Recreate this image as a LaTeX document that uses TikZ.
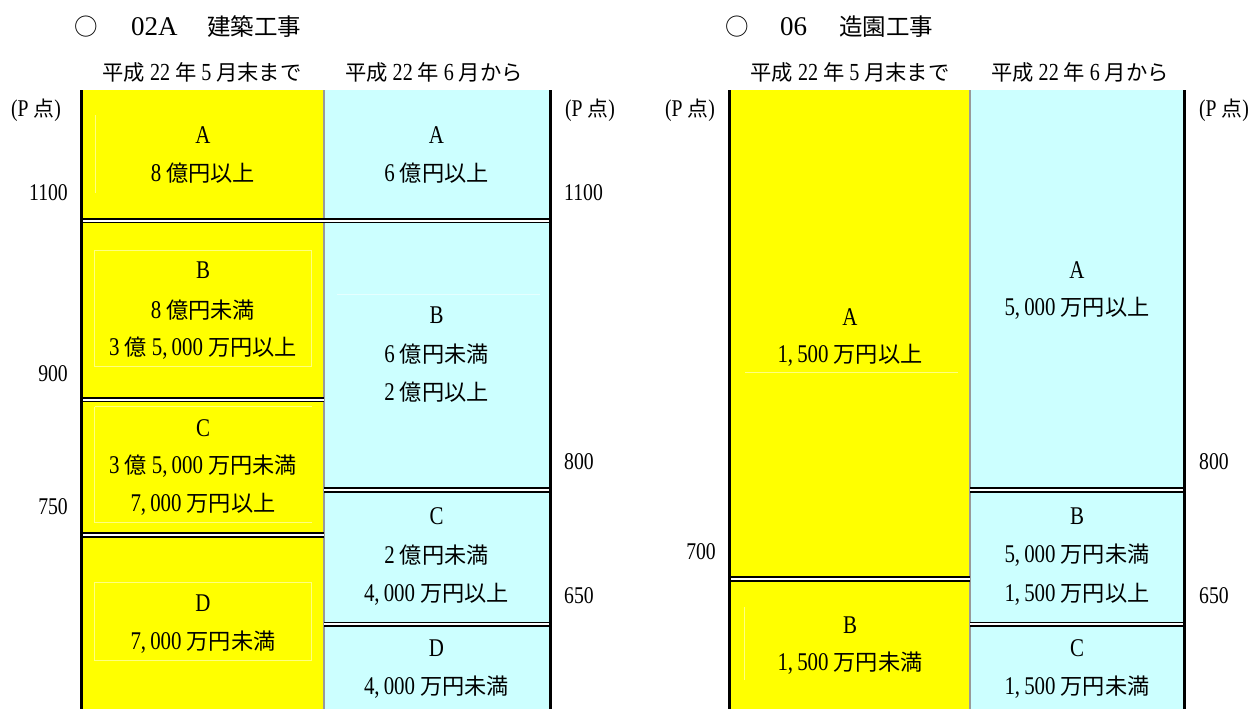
\documentclass[tikz,border=0pt]{standalone}
\usepackage{fontspec}
\setmainfont[FakeStretch=0.82]{Liberation Serif}
\newfontfamily\ttlfont{Liberation Serif}
\newfontfamily\jpfont[Scale=0.87]{Noto Sans CJK JP}
\newcommand{\myjp}[1]{{\jpfont #1}}
\newcommand{\gp}{\hspace{0.2em}}
\newcommand{\mycomma}{,\hspace{0.16em}}
\definecolor{cyanbox}{RGB}{204,255,255}
\definecolor{yelbox}{RGB}{255,255,0}
\begin{document}
\begin{tikzpicture}[x=1pt,y=-1pt,
  yel/.style={fill=yelbox},
  cya/.style={fill=cyanbox},
  sepline/.style={line width=1.7pt, double=white, double distance=2pt},
  outerline/.style={line width=2.7pt, draw=black},
  midline/.style={line width=1.4pt, draw=black!40},
  faint/.style={draw=white, line width=0.7pt, opacity=0.5},
  bt/.style={font=\fontsize{25.5}{28}\selectfont, inner sep=0pt, anchor=center},
  ax/.style={font=\fontsize{24}{27}\selectfont, inner sep=0pt},
  hd/.style={font=\fontsize{24.5}{28}\selectfont, inner sep=0pt, anchor=center},
  tt/.style={font=\fontsize{27}{30}\ttlfont, inner sep=0pt}
]
\useasboundingbox (0,0) rectangle (1252,709);

% ---------- fills ----------
\fill[yel] (82.5,90) rectangle (324,709);
\fill[cya] (324,90) rectangle (549,709);
\fill[yel] (730.5,90) rectangle (970,709);
\fill[cya] (970,90) rectangle (1183,709);

% ---------- faint text-box edges ----------
\draw[faint] (95,115) -- (95,193);
\draw[faint] (94.5,250) rectangle (311.5,366);
\draw[faint] (94.5,406.7) -- (311.5,406.7) (94.5,406.7) -- (94.5,522.7) -- (311.5,522.7);
\draw[faint] (94.5,582.7) rectangle (311.5,660);
\draw[faint] (337,294) -- (540,294);
\draw[faint] (745,372) -- (958,372);
\draw[faint] (744,607) -- (744,680);

% ---------- middle lines ----------
\draw[midline] (324,90) -- (324,709);
\draw[midline] (970,90) -- (970,709);

% ---------- separators ----------
\draw[sepline] (82.5,220.5) -- (549,220.5);
\draw[sepline] (82.5,399.5) -- (324,399.5);
\draw[sepline] (82.5,534.8) -- (324,534.8);
\draw[sepline] (324,490) -- (549,490);
\draw[sepline] (324,624.3) -- (549,624.3);
\draw[sepline] (730.5,579) -- (970,579);
\draw[sepline] (970,490) -- (1183,490);
\draw[sepline] (970,624.3) -- (1183,624.3);

% ---------- outer lines ----------
\draw[outerline] (81.3,90) -- (81.3,709);
\draw[outerline] (550.3,90) -- (550.3,709);
\draw[outerline] (729.2,90) -- (729.2,709);
\draw[outerline] (1184.5,90) -- (1184.5,709);

% ---------- titles ----------
\node[tt, anchor=center] (t1c) at (86,27) {\myjp{○}};
\node[tt, anchor=west] (t1n) at (131,27) {02A};
\node[tt, anchor=west] (t1j) at (207,27) {\myjp{建築工事}};
\node[tt, anchor=center] (t2c) at (737,27) {\myjp{○}};
\node[tt, anchor=west] (t2n) at (780,27) {06};
\node[tt, anchor=west] (t2j) at (839,27) {\myjp{造園工事}};

% ---------- column headers ----------
\node[hd] (h1) at (202,72) {\myjp{平成}\gp 22\gp\myjp{年}\gp 5\gp\myjp{月末まで}};
\node[hd] (h2) at (434,72) {\myjp{平成}\gp 22\gp\myjp{年}\gp 6\gp\myjp{月から}};
\node[hd] (h3) at (850,72) {\myjp{平成}\gp 22\gp\myjp{年}\gp 5\gp\myjp{月末まで}};
\node[hd] (h4) at (1080,72) {\myjp{平成}\gp 22\gp\myjp{年}\gp 6\gp\myjp{月から}};

% ---------- axis labels: left chart ----------
\node[ax, anchor=center] (lp1) at (36,110) {(P\gp\myjp{点})};
\node[ax, anchor=east] (l1100) at (68,193) {1100};
\node[ax, anchor=east] (l900) at (68,374) {900};
\node[ax, anchor=east] (l750) at (68,507) {750};
\node[ax, anchor=center] (rp1) at (590,110) {(P\gp\myjp{点})};
\node[ax, anchor=west] (r1100) at (564,193) {1100};
\node[ax, anchor=west] (r800) at (564,462) {800};
\node[ax, anchor=west] (r650) at (564,596) {650};

% ---------- axis labels: right chart ----------
\node[ax, anchor=center] (lp2) at (690,110) {(P\gp\myjp{点})};
\node[ax, anchor=east] (l700) at (716,552) {700};
\node[ax, anchor=center] (rp2) at (1224,110) {(P\gp\myjp{点})};
\node[ax, anchor=west] (r800b) at (1199,462) {800};
\node[ax, anchor=west] (r650b) at (1199,596) {650};

% ---------- left chart, yellow ----------
\node[bt] (ya1) at (203,135) {A};
\node[bt] (ya2) at (203,173) {8\gp\myjp{億円以上}};
\node[bt] (yb1) at (203,270.5) {B};
\node[bt] (yb2) at (203,310) {8\gp\myjp{億円未満}};
\node[bt] (yb3) at (203,348) {3\gp\myjp{億}\gp 5\mycomma 000\gp\myjp{万円以上}};
\node[bt] (yc1) at (203,428) {C};
\node[bt] (yc2) at (203,466) {3\gp\myjp{億}\gp 5\mycomma 000\gp\myjp{万円未満}};
\node[bt] (yc3) at (203,504) {7\mycomma 000\gp\myjp{万円以上}};
\node[bt] (yd1) at (203,603) {D};
\node[bt] (yd2) at (203,642) {7\mycomma 000\gp\myjp{万円未満}};

% ---------- left chart, cyan ----------
\node[bt] (ca1) at (436.5,135) {A};
\node[bt] (ca2) at (436.5,173) {6\gp\myjp{億円以上}};
\node[bt] (cb1) at (436.5,315) {B};
\node[bt] (cb2) at (436.5,354) {6\gp\myjp{億円未満}};
\node[bt] (cb3) at (436.5,392) {2\gp\myjp{億円以上}};
\node[bt] (cc1) at (436.5,516) {C};
\node[bt] (cc2) at (436.5,555) {2\gp\myjp{億円未満}};
\node[bt] (cc3) at (436.5,594) {4\mycomma 000\gp\myjp{万円以上}};
\node[bt] (cd1) at (436.5,648) {D};
\node[bt] (cd2) at (436.5,687) {4\mycomma 000\gp\myjp{万円未満}};

% ---------- right chart, yellow ----------
\node[bt] (zya1) at (850,317) {A};
\node[bt] (zya2) at (850,355) {1\mycomma 500\gp\myjp{万円以上}};
\node[bt] (zyb1) at (850,625) {B};
\node[bt] (zyb2) at (850,663) {1\mycomma 500\gp\myjp{万円未満}};

% ---------- right chart, cyan ----------
\node[bt] (zca1) at (1077,270) {A};
\node[bt] (zca2) at (1077,308) {5\mycomma 000\gp\myjp{万円以上}};
\node[bt] (zcb1) at (1077,516) {B};
\node[bt] (zcb2) at (1077,555) {5\mycomma 000\gp\myjp{万円未満}};
\node[bt] (zcb3) at (1077,594) {1\mycomma 500\gp\myjp{万円以上}};
\node[bt] (zcc1) at (1077,648) {C};
\node[bt] (zcc2) at (1077,687) {1\mycomma 500\gp\myjp{万円未満}};
\end{tikzpicture}
\end{document}
